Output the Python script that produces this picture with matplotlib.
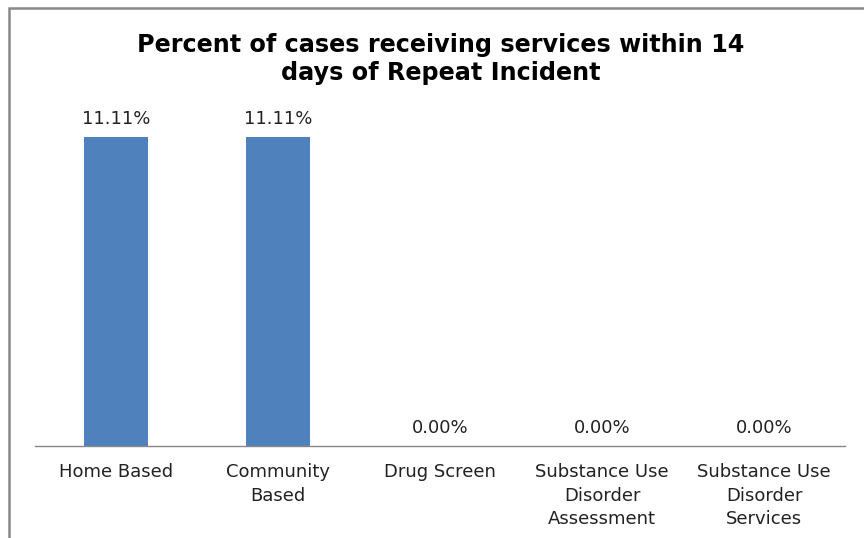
import matplotlib
matplotlib.use("Agg")
import matplotlib.pyplot as plt
from matplotlib.patches import Rectangle

categories = ["Home Based", "Community\nBased", "Drug Screen",
              "Substance Use\nDisorder\nAssessment", "Substance Use\nDisorder\nServices"]
values = [11.11, 11.11, 0.0, 0.0, 0.0]
title = "Percent of cases receiving services within 14\ndays of Repeat Incident"

W, H = 864, 538
plt.rcParams["font.family"] = ["DejaVu Sans"]

fig = plt.figure(figsize=(W / 100, H / 100), dpi=100)
ax = fig.add_axes([35 / W, 1 - 446 / H, (845 - 35) / W, (446 - 112) / H])

x = range(len(categories))
bars = ax.bar(x, values, width=0.395, color="#4F81BD")
ax.set_xlim(-0.5, len(categories) - 0.5)
ax.set_ylim(0, 12)

for b, v in zip(bars, values):
    ax.annotate(f"{v:.2f}%", (b.get_x() + b.get_width() / 2, v),
                xytext=(0, 6.5), textcoords="offset points",
                ha="center", va="bottom", fontsize=13, color="#222222")

ax.set_xticks(list(x))
ax.set_xticklabels(categories, fontsize=13, color="#222222", linespacing=1.42)
ax.tick_params(axis="x", length=0, pad=12)
ax.set_yticks([])
for s in ["top", "right", "left"]:
    ax.spines[s].set_visible(False)
ax.spines["bottom"].set_color("#888888")
ax.spines["bottom"].set_linewidth(1.0)

fig.text(441 / W, 1 - 59 / H, title, ha="center", va="center",
         fontsize=17.2, fontweight="bold", linespacing=1.2)

# outer chart frame (clipped by the image edges on right and bottom)
fig.patches.append(Rectangle((9 / W, -0.05), 1.0, 1 - 8 / H + 0.05,
                             transform=fig.transFigure, fill=False,
                             edgecolor="#888888", linewidth=1.8))

fig.savefig("out.png", dpi=100)
